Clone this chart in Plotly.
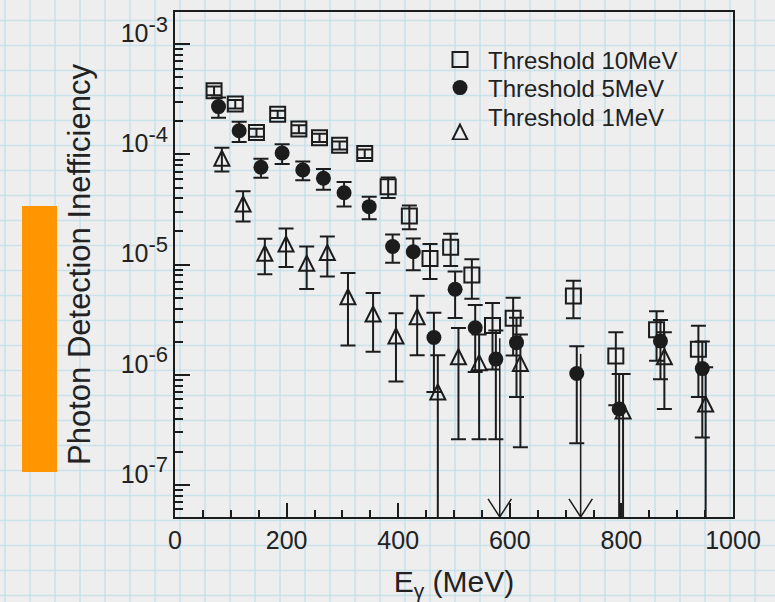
import plotly.graph_objects as go

# ---------------- data ----------------
# Threshold 10 MeV (open squares)
e_10 = [70, 108, 146, 184, 222, 259, 295, 340, 382, 420, 457, 494, 532, 569, 606, 714, 790, 863, 938]
v_10 = [3.79e-4, 2.87e-4, 1.58e-4, 2.32e-4, 1.70e-4, 1.42e-4, 1.21e-4, 1.02e-4, 5.10e-5, 2.77e-5,
        1.14e-5, 1.44e-5, 8.06e-6, 2.80e-6, 3.26e-6, 5.20e-6, 1.48e-6, 2.56e-6, 1.71e-6]
err_10 = [0.35e-4, 0.25e-4, 0.13e-4, 0.18e-4, 0.14e-4, 0.12e-4, 0.10e-4, 0.09e-4, 1.07e-5, 0.67e-5,
          0.40e-5, 0.47e-5, 3.15e-6, 1.68e-6, 1.76e-6, 1.93e-6, 0.95e-6, 1.22e-6, 1.08e-6]

# Threshold 5 MeV (filled circles)
e_5 = [78, 115, 154, 192, 229, 266, 303, 348, 390, 427, 464, 502, 538, 575, 612, 720, 796, 870, 945]
v_5 = [2.72e-4, 1.64e-4, 7.65e-5, 1.03e-4, 7.23e-5, 6.08e-5, 4.50e-5, 3.36e-5, 1.46e-5, 1.31e-5,
       2.18e-6, 5.98e-6, 2.68e-6, 1.39e-6, 1.96e-6, 1.03e-6, 4.90e-7, 2.03e-6, 1.14e-6]
err_5 = [0.57e-4, 0.34e-4, 1.50e-5, 2.10e-5, 1.40e-5, 1.30e-5, 1.13e-5, 0.78e-5, 0.42e-5, 0.42e-5,
         1.48e-6, 2.70e-6, 1.62e-6, 1.13e-6, 1.33e-6, 0.79e-6, 0.53e-6, 1.12e-6, 0.87e-6]

# Threshold 1 MeV (open triangles)
e_1 = [84, 122, 161, 199, 236, 273, 310, 355, 396, 434, 471, 508, 545, 619, 803, 877, 951]
v_1 = [9.24e-5, 3.55e-5, 1.27e-5, 1.54e-5, 1.03e-5, 1.29e-5, 5.12e-6, 3.57e-6, 2.25e-6, 3.37e-6,
       6.99e-7, 1.46e-6, 1.29e-6, 1.27e-6, 4.70e-7, 1.46e-6, 5.44e-7]
err_1 = [2.25e-5, 1.09e-5, 0.45e-5, 0.59e-5, 0.43e-5, 0.51e-5, 3.27e-6, 1.95e-6, 1.38e-6, 1.86e-6,
         0.81e-6, 1.20e-6, 1.03e-6, 1.05e-6, 0.55e-6, 0.97e-6, 0.63e-6]

# Threshold 1 MeV bins drawn as downward arrows (no marker): upper end of the bar
e_lim = [582, 727]
v_lim_top = [2.15e-6, 1.55e-6]

series_names = ["Threshold 10MeV", "Threshold 5MeV", "Threshold 1MeV"]
x_ticks = [0, 200, 400, 600, 800, 1000]
y_tick_exp = [-7, -6, -5, -4, -3]

# ---------------- layout geometry ----------------
W, H = 775, 602
ML, MR, MT, MB = 175, 42, 12, 85
PW, PH = W - ML - MR, H - MT - MB
Y_RANGE = [-7.29, -2.707]

INK = "#1c1c1c"
TXT = "#222222"
FONT = "Liberation Sans, Arial, Helvetica, sans-serif"


def px_to_paper_x(px):
    return (px - ML) / PW


def px_to_paper_y(py):
    return (H - MB - py) / PH


fig = go.Figure()


def ebar(err):
    return dict(type="data", array=err, color=INK, thickness=2, width=7.5, visible=True)


fig.add_trace(go.Scatter(
    x=e_10, y=v_10, mode="markers", name=series_names[0], legend="legend",
    marker=dict(symbol="square-open", size=15, color=INK, line=dict(width=2, color=INK)),
    error_y=ebar(err_10),
))
fig.add_trace(go.Scatter(
    x=e_5, y=v_5, mode="markers", name=series_names[1], legend="legend2",
    marker=dict(symbol="circle", size=15, color=INK, line=dict(width=0)),
    error_y=ebar(err_5),
))
fig.add_trace(go.Scatter(
    x=e_1, y=v_1, mode="markers", name=series_names[2], legend="legend3",
    marker=dict(symbol="arrow-down-open", angle=180, standoff=7.5, size=15, color=INK,
                line=dict(width=2, color=INK)),
    error_y=ebar(err_1),
))

# downward arrows (vertical line to the axis + open V head at the axis)
ybot = 10 ** Y_RANGE[0]
yhead = 10 ** (Y_RANGE[0] + 0.165)
lx, ly = [], []
for xe, yt in zip(e_lim, v_lim_top):
    lx += [xe, xe, None, xe - 21, xe, xe + 21, None]
    ly += [yt, ybot, None, yhead, ybot, yhead, None]
fig.add_trace(go.Scatter(x=lx, y=ly, mode="lines", showlegend=False, hoverinfo="skip",
                         line=dict(color=INK, width=1.5)))

# ---------------- background: grid paper + orange bar ----------------
shapes = []
grid_col = "rgba(190,221,234,0.7)"
for k in range(0, 32):
    xp = px_to_paper_x(5 + 25 * k)
    shapes.append(dict(type="line", xref="paper", yref="paper", x0=xp, x1=xp,
                       y0=px_to_paper_y(0), y1=px_to_paper_y(H), layer="below",
                       line=dict(color=grid_col, width=1.6)))
for k in range(-1, 25):
    yp = px_to_paper_y(20.5 + 25 * k)
    shapes.append(dict(type="line", xref="paper", yref="paper", y0=yp, y1=yp,
                       x0=px_to_paper_x(0), x1=px_to_paper_x(W), layer="below",
                       line=dict(color=grid_col, width=1.6)))
shapes.append(dict(type="rect", xref="paper", yref="paper",
                   x0=px_to_paper_x(22), x1=px_to_paper_x(57),
                   y0=px_to_paper_y(472), y1=px_to_paper_y(206),
                   fillcolor="#ff9500", line=dict(width=0), layer="below"))

minor_y = [m * 10 ** e for e in range(-8, -2) for m in range(2, 10)]


def legend_box(top_px):
    return dict(x=px_to_paper_x(432), y=px_to_paper_y(top_px), xanchor="left", yanchor="top",
                bgcolor="rgba(0,0,0,0)", borderwidth=0, itemwidth=46,
                font=dict(family=FONT, size=24, color=TXT))


fig.update_layout(
    width=W, height=H, autosize=False,
    margin=dict(l=ML, r=MR, t=MT, b=MB, pad=0),
    paper_bgcolor="#eeeeee", plot_bgcolor="rgba(0,0,0,0)",
    font=dict(family=FONT, color=TXT),
    shapes=shapes,
    showlegend=True,
    legend=legend_box(37.5),
    legend2=legend_box(65.5),
    legend3=legend_box(95.0),
    xaxis=dict(
        range=[0, 1000], tickmode="array", tickvals=x_ticks, ticktext=[str(v) for v in x_ticks],
        ticks="inside", ticklen=14, tickwidth=2, tickcolor=INK,
        minor=dict(ticks="inside", ticklen=7, tickwidth=2, tickcolor=INK, dtick=50, showgrid=False),
        showline=True, linecolor=INK, linewidth=2, mirror=True, showgrid=False, zeroline=False,
        tickfont=dict(size=25, family=FONT, color=TXT), automargin=False,
        title=dict(text="E<sub>γ</sub> (MeV)", font=dict(size=30, family=FONT, color=TXT),
                   standoff=18),
    ),
    yaxis=dict(
        type="log", range=Y_RANGE, tickmode="array",
        tickvals=[10 ** e for e in y_tick_exp],
        ticktext=["10<sup><span style='font-size:22px'>-%d</span></sup>" % (-e) for e in y_tick_exp],
        ticks="inside", ticklen=15, tickwidth=2, tickcolor=INK,
        ticklabelshift=-11,
        minor=dict(ticks="inside", ticklen=8, tickwidth=2, tickcolor=INK, tickvals=minor_y, showgrid=False),
        showline=True, linecolor=INK, linewidth=2, mirror=True, showgrid=False, zeroline=False,
        tickfont=dict(size=25, family=FONT, color=TXT), automargin=False,
        title=dict(text="Photon Detection Inefficiency",
                   font=dict(size=31, family=FONT, color=TXT), standoff=21),
    ),
)

fig.write_html("out.html")
